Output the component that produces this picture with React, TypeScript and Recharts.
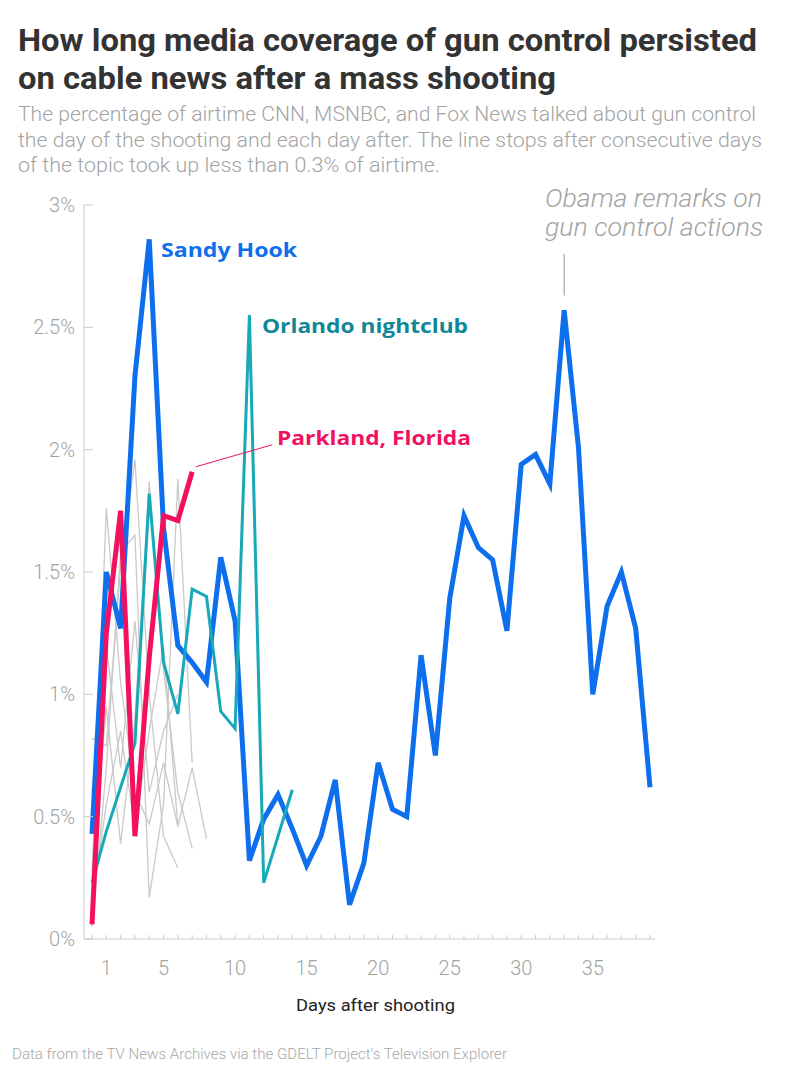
import React from 'react';
import { LineChart, Line, XAxis, YAxis, ReferenceLine } from 'recharts';

// % of airtime per day after the shooting (index = day)
const sandyHook = [0.43, 1.5, 1.27, 2.3, 2.86, 1.68, 1.2, 1.13, 1.05, 1.56, 1.3, 0.32, 0.49, 0.59, 0.45, 0.3, 0.42, 0.65, 0.14, 0.31, 0.72, 0.53, 0.5, 1.16, 0.75, 1.39, 1.73, 1.6, 1.55, 1.26, 1.94, 1.98, 1.86, 2.57, 2.01, 1.0, 1.36, 1.5, 1.27, 0.62];
const orlando = [0.23, 0.44, 0.62, 0.8, 1.82, 1.13, 0.92, 1.43, 1.4, 0.93, 0.86, 2.55, 0.23, 0.42, 0.61];
const parkland = [0.06, 1.25, 1.75, 0.42, 1.15, 1.73, 1.71, 1.91];

// other mass shootings, drawn in gray
const other1 = [0.25, 1.76, 1.05, 0.6, 0.47, 0.72, 0.46];
const other2 = [0.82, 0.79, 1.52, 1.96, 1.0, 0.42, 0.29];
const other3 = [0.05, 0.7, 1.58, 1.65, 0.17, 0.55, 1.88, 0.72];
const other4 = [0.3, 0.95, 0.39, 0.9, 1.87, 1.1, 0.6, 0.37];
const other5 = [0.15, 0.55, 0.85, 0.45, 0.85, 1.2, 0.46, 0.7, 0.41];
const other6 = [0.6, 1.2, 0.7, 1.3, 0.6, 0.85, 1.0];

const yTicks = [0, 0.5, 1, 1.5, 2, 2.5, 3];
const xTicks = sandyHook.map((_, i) => i);
const xLabels = [1, 5, 10, 15, 20, 25, 30, 35];

const others = [other1, other2, other3, other4, other5, other6];

const data = xTicks.map((day) => {
  const row: Record<string, number | undefined> = {
    day,
    sandy: sandyHook[day],
    orlando: orlando[day],
    parkland: parkland[day],
  };
  others.forEach((s, i) => {
    row[`g${i}`] = s[day];
  });
  return row;
});

const GRAY_TEXT = '#a3a3a3';
const AXIS = '#cccccc';

const XTick = ({ x, y, payload }: any) => (
  <g>
    <line x1={x} x2={x} y1={y} y2={y - 4} stroke={AXIS} />
    {xLabels.includes(payload.value) && (
      <text x={x} y={y + 36} textAnchor="middle" fill={GRAY_TEXT} fontSize={20} fontFamily="Roboto" fontWeight={300}>
        {payload.value}
      </text>
    )}
  </g>
);

const YTick = ({ x, y, payload }: any) => (
  <g>
    <line x1={x} x2={x + 9} y1={y} y2={y} stroke={AXIS} />
    <text x={x - 9} y={y + 7} textAnchor="end" fill={GRAY_TEXT} fontSize={20} fontFamily="Roboto" fontWeight={300}>
      {`${payload.value}%`}
    </text>
  </g>
);

export default function App() {
  return (
    <div style={{ position: 'absolute', left: 0, top: 0, width: 800, height: 1076, background: '#fff' }}>
      <LineChart
        width={800}
        height={1076}
        data={data}
        margin={{ top: 205, right: 145, bottom: 97, left: 24 }}
        style={{ position: 'absolute', left: 0, top: 0 }}
      >
        <XAxis
          dataKey="day"
          type="number"
          domain={[-0.56, 39.35]}
          ticks={xTicks}
          interval={0}
          height={40}
          tickSize={0}
          tickMargin={0}
          axisLine={{ stroke: AXIS }}
          tickLine={false}
          tick={(p: any) => <XTick {...p} />}
        />
        <YAxis
          type="number"
          domain={[0, 3]}
          ticks={yTicks}
          width={60}
          tickSize={0}
          tickMargin={0}
          axisLine={{ stroke: AXIS }}
          tickLine={false}
          tick={(p: any) => <YTick {...p} />}
        />
        {others.map((_, i) => (
          <Line key={i} dataKey={`g${i}`} stroke="#c9c9c9" strokeWidth={1.3} dot={false} isAnimationActive={false} />
        ))}
        <Line dataKey="sandy" stroke="#0d6fee" strokeWidth={5} dot={false} isAnimationActive={false} />
        <Line dataKey="orlando" stroke="#18a9b9" strokeWidth={3} dot={false} isAnimationActive={false} />
        <Line dataKey="parkland" stroke="#f2105f" strokeWidth={5} dot={false} isAnimationActive={false} />
        <ReferenceLine segment={[{ x: 33, y: 2.63 }, { x: 33, y: 2.8 }]} stroke="#999" strokeWidth={1} />
        <ReferenceLine segment={[{ x: 7.25, y: 1.93 }, { x: 12.6, y: 2.02 }]} stroke="#f2105f" strokeWidth={1} />
      </LineChart>

      <svg width={800} height={1076} style={{ position: 'absolute', left: 0, top: 0, pointerEvents: 'none' }}>
        <g fontFamily="Roboto" fontWeight={700} fontSize={32} fill="#333">
          <text x={18} y={51} textLength={739} lengthAdjust="spacingAndGlyphs">How long media coverage of gun control persisted</text>
          <text x={18} y={89} textLength={538} lengthAdjust="spacingAndGlyphs">on cable news after a mass shooting</text>
        </g>
        <g fontFamily="Roboto" fontWeight={300} fontSize={21} fill={GRAY_TEXT}>
          <text x={18} y={121} textLength={738} lengthAdjust="spacingAndGlyphs">The percentage of airtime CNN, MSNBC, and Fox News talked about gun control</text>
          <text x={18} y={147} textLength={744} lengthAdjust="spacingAndGlyphs">the day of the shooting and each day after. The line stops after consecutive days</text>
          <text x={18} y={172} textLength={422} lengthAdjust="spacingAndGlyphs">of the topic took up less than 0.3% of airtime.</text>
        </g>
        <g fontFamily="Roboto" fontStyle="italic" fontWeight={300} fontSize={25} fill={GRAY_TEXT}>
          <text x={545} y={207} textLength={217} lengthAdjust="spacingAndGlyphs">Obama remarks on</text>
          <text x={545} y={236} textLength={218} lengthAdjust="spacingAndGlyphs">gun control actions</text>
        </g>
        <g fontFamily="Open Sans" fontWeight={700} fontSize={20}>
          <text x={161} y={257} fill="#0d6fee" textLength={136} lengthAdjust="spacingAndGlyphs">Sandy Hook</text>
          <text x={262} y={333} fill="#0f8797" textLength={206} lengthAdjust="spacingAndGlyphs">Orlando nightclub</text>
          <text x={277} y={445} fill="#f2105f" textLength={194} lengthAdjust="spacingAndGlyphs">Parkland, Florida</text>
        </g>
        <text x={296} y={1011} fontFamily="Roboto" fontSize={17} fill="#222" textLength={159} lengthAdjust="spacingAndGlyphs">Days after shooting</text>
        <text x={12} y={1059} fontFamily="Roboto" fontWeight={300} fontSize={14} fill="#a8a8a8" textLength={495} lengthAdjust="spacingAndGlyphs">Data from the TV News Archives via the GDELT Project's Television Explorer</text>
      </svg>
    </div>
  );
}
